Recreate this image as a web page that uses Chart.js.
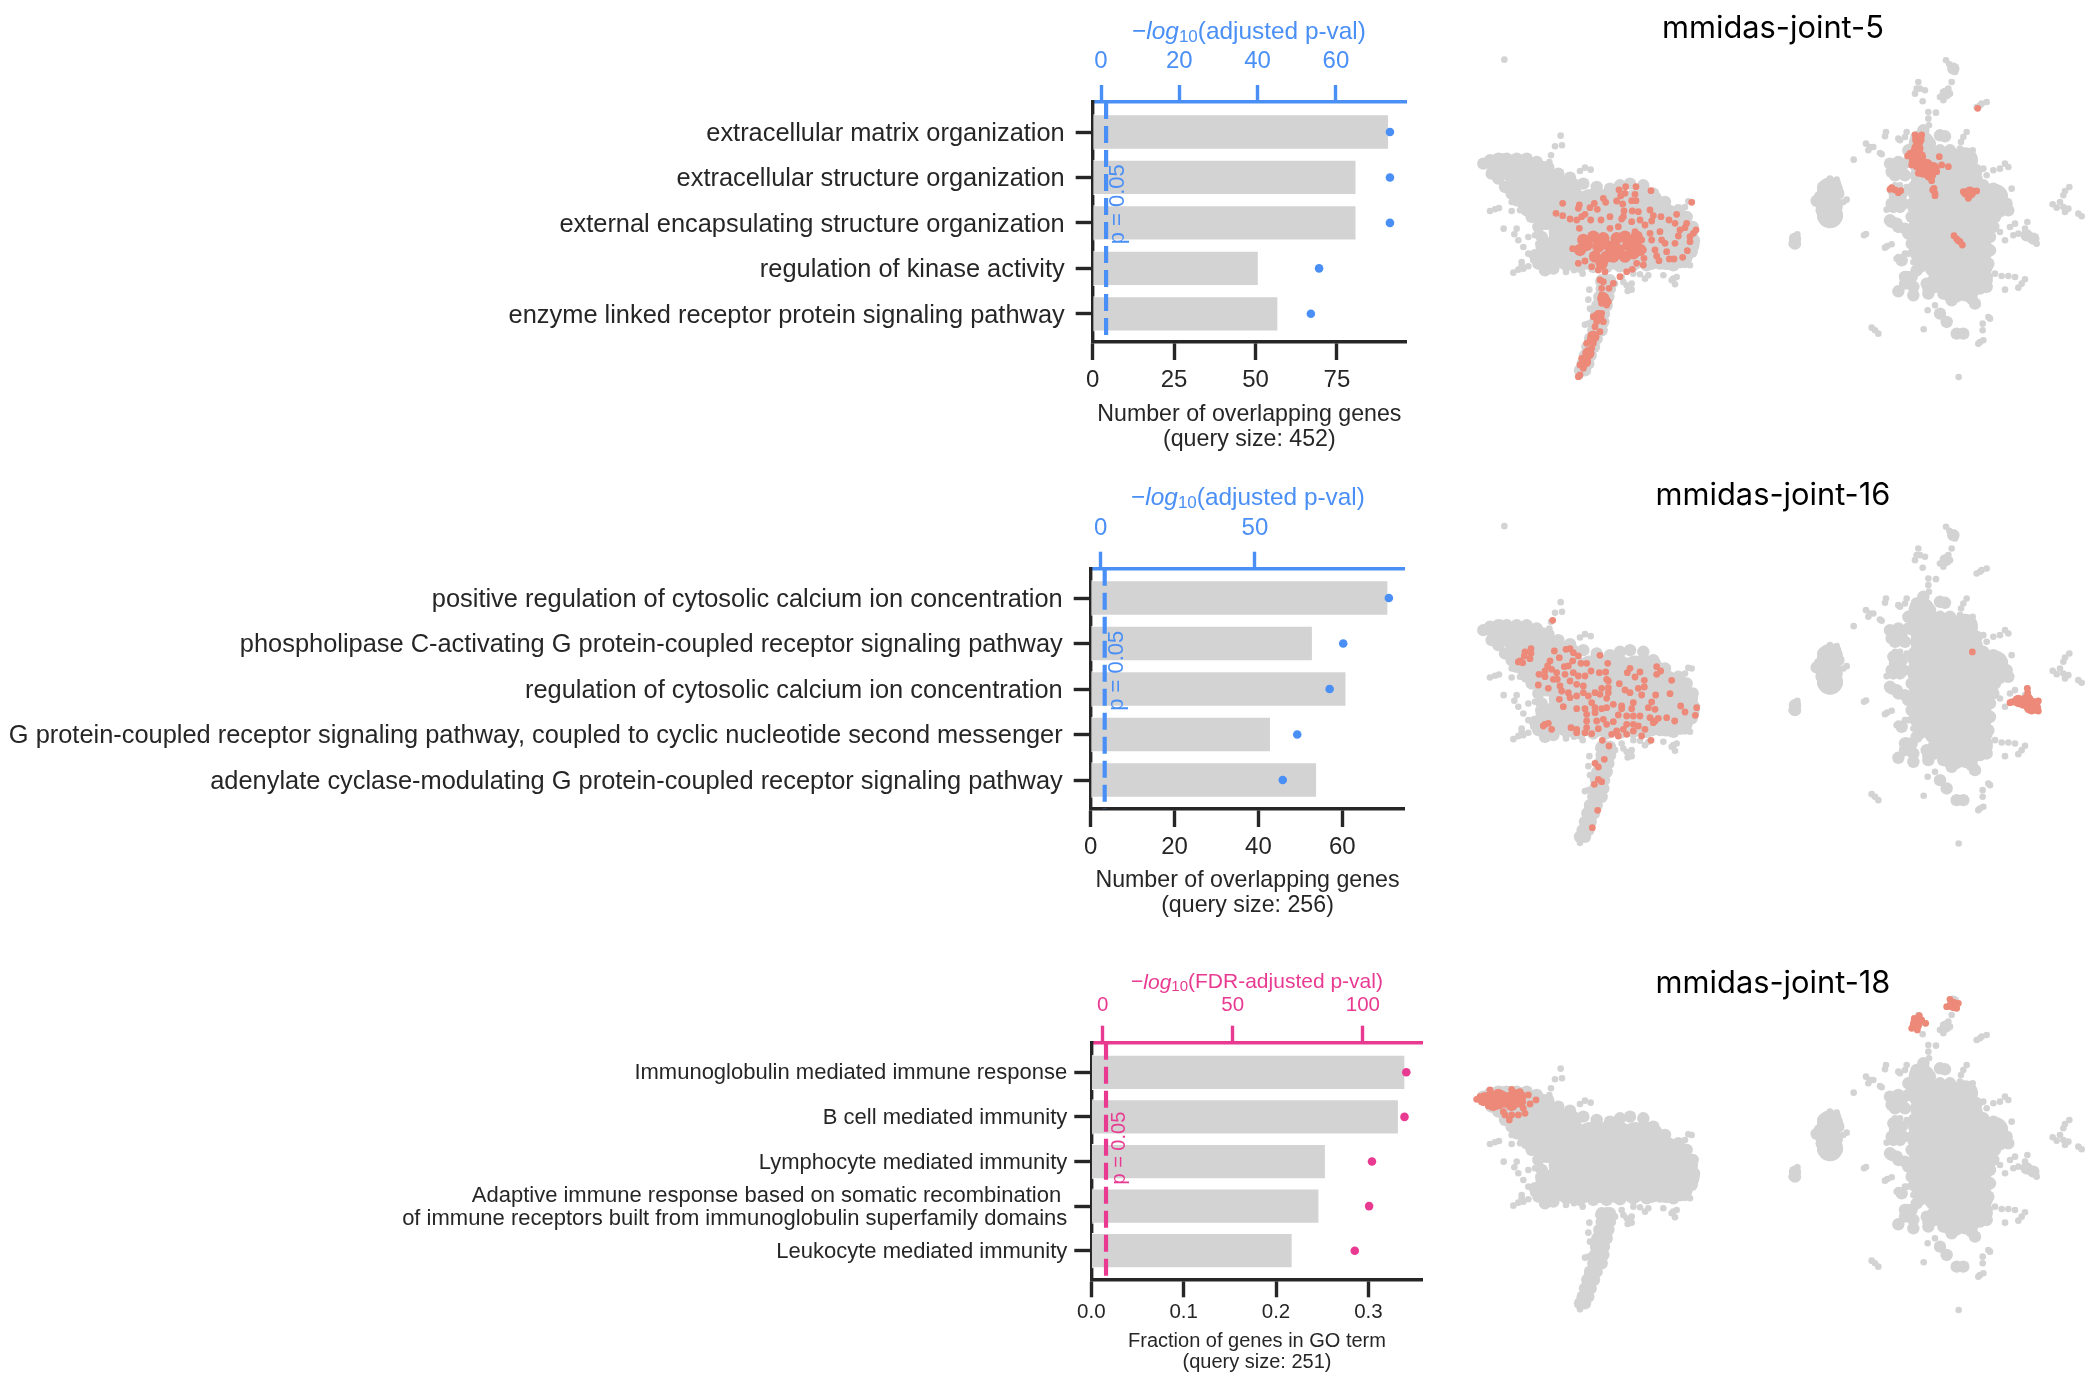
<!DOCTYPE html>
<html>
<head>
<meta charset="utf-8">
<title>mmidas GO enrichment</title>
<script src="https://cdn.jsdelivr.net/npm/chart.js@4"></script>
<style>
  html, body { margin: 0; padding: 0; background: #fff; overflow: hidden; }
  canvas { position: absolute; }
</style>
</head>
<body>
<canvas id="bars5" width="1450" height="460" style="left:0;top:0"></canvas>
<canvas id="bars16" width="1450" height="460" style="left:0;top:470px"></canvas>
<canvas id="bars18" width="1450" height="428" style="left:0;top:960px"></canvas>
<canvas id="umap5" width="646" height="456" style="left:1450px;top:0"></canvas>
<canvas id="umap16" width="646" height="456" style="left:1450px;top:466px"></canvas>
<canvas id="umap18" width="646" height="456" style="left:1450px;top:932px"></canvas>
<script>
// bar panel data
const terms5 = ["extracellular matrix organization", "extracellular structure organization",
    "external encapsulating structure organization", "regulation of kinase activity",
    "enzyme linked receptor protein signaling pathway"];
const genes5 = [91, 81, 81, 51, 57];
const logp5 = [73.8, 73.8, 73.8, 55.7, 53.6];
const ticks5 = [0, 25, 50, 75];
const topTicks5 = [0, 20, 40, 60];

const terms16 = ["positive regulation of cytosolic calcium ion concentration",
    "phospholipase C-activating G protein-coupled receptor signaling pathway",
    "regulation of cytosolic calcium ion concentration",
    "G protein-coupled receptor signaling pathway, coupled to cyclic nucleotide second messenger",
    "adenylate cyclase-modulating G protein-coupled receptor signaling pathway"];
const genes16 = [71, 53, 61, 43, 54];
const logp16 = [93.4, 78.6, 74.2, 63.7, 59];
const ticks16 = [0, 20, 40, 60];
const topTicks16 = [0, 50];

const terms18 = ["Immunoglobulin mediated immune response", "B cell mediated immunity",
    "Lymphocyte mediated immunity",
    ["Adaptive immune response based on somatic recombination ", "of immune receptors built from immunoglobulin superfamily domains"],
    "Leukocyte mediated immunity"];
const fraction18 = [0.340, 0.333, 0.254, 0.247, 0.218];
const logp18 = [116.7, 116, 103.5, 102.4, 96.9];
const ticks18 = [0, 0.1, 0.2, 0.3];
const topTicks18 = [0, 50, 100];

// embeddings: the grey cells are the same in all three rows, L and R are the two maps
const greyCoreL = [[90,357],[130,370],[175,370],[215,380],[150,415],
    [160,420],[205,420],[250,420],[295,425],
    [180,465],[225,465],[270,465],[315,465],[360,465],[405,465],[450,465],[495,465],[540,465],
    [230,510],[275,510],[320,510],[365,510],[410,510],[455,510],[500,510],[545,510],[590,510],[620,520],
    [275,555],[295,555],[340,555],[385,555],[430,555],[475,555],[520,555],[565,555],[610,555],[645,555],
    [260,600],[305,600],[350,600],[395,600],[440,600],[485,600],[530,600],[575,600],[620,600],[650,590],
    [240,630],[290,630],[340,630],[390,630],[440,630],[490,630],[540,630],[590,630],[630,625]];
const greyMidL = [[40,350],[60,340],[85,335],[110,335],[140,335],[170,335],[200,345],[235,362],[265,380],[300,392],
    [340,410],[380,420],[420,425],[450,415],[480,410],[520,415],[550,440],[585,465],[625,490],[650,510],[668,540],
    [672,580],[665,615],[645,645],[610,655],[570,650],[530,655],[490,655],[450,658],[410,660],[370,660],[330,660],
    [290,655],[250,665],[225,670],[205,650],[195,625],[215,600],[215,570],[205,540],[185,510],[170,490],[140,460],
    [125,440],[105,420],[85,395],[65,380],
    [410,700],[408,725],[402,750],[398,775],[392,800],[388,825],[382,850],[368,875],[362,900],[355,925],[348,950],
    [420,700],[395,700],[420,725],[395,725],[415,750],[388,750],[410,775],[382,775],[402,800],[378,800],[400,825],
    [375,825],[395,850],[370,850],[380,875],[360,875],[372,900],[352,900],[362,925],[345,925],[355,950],[338,950],
    [345,970],[330,970]];
const greyEdgeL = [[103,38],[272,266],[276,295],[255,298],[243,325],[238,345],[345,362],[362,368],[330,372],
    [655,463],[665,465],[645,480],[60,492],[75,487],[87,483],[101,545],[125,465],[125,492],[150,490],
    [140,545],[133,562],[145,580],[160,600],[175,620],[190,640],[175,570],[195,565],[205,590],[210,610],
    [155,645],[130,677],[145,668],[160,665],[175,658],[155,655],
    [288,675],[312,670],[338,680],[385,705],[435,710],[460,705],[470,715],[485,710],[473,732],[485,728],[455,690],
    [490,680],[525,695],[535,685],[510,682],[580,685],[610,695],[615,712],[605,700],[620,690],[660,655],
    [358,728],[355,758],[360,785],[345,833],[355,830],[400,850],[385,870],[330,955],[325,965],[345,968],[330,988],
    [338,975],[375,905],[350,890]];
const greyCoreR = [[150,430],[145,470],[150,505],
    [425,290],[420,340],[470,340],[510,340],[555,340],[430,385],[475,385],[520,385],[565,385],
    [420,430],[465,430],[510,430],[555,430],[600,440],[645,450],
    [420,475],[465,475],[510,475],[555,475],[600,475],[650,475],
    [425,520],[470,520],[515,520],[560,520],[605,520],
    [420,565],[465,565],[510,565],[555,565],[600,565],
    [425,610],[470,610],[515,610],[560,610],[600,610],
    [470,655],[515,655],[560,655],[600,655],[510,700],[550,700],[590,690],[520,730],[560,725]];
const greyMidR = [[130,420],[165,410],[120,450],[110,462],[175,440],[170,480],[130,510],[170,510],[150,525],[125,490],
    [45,590],[45,575],[520,65],[497,140],[480,265],[495,268],
    [355,345],[345,365],[385,345],[385,310],[410,270],[430,250],[450,290],[480,310],[510,310],[345,385],[375,385],
    [550,335],[590,370],[590,395],[610,415],[640,425],[665,445],[680,470],[685,490],[645,510],[355,435],[345,450],
    [370,470],[395,510],[340,480],[335,525],[355,540],[385,560],[395,590],[640,540],[630,570],[630,610],[625,650],
    [440,640],[420,660],[380,690],[400,720],[355,733],[445,725],[460,700],[620,700],[620,720],[600,725],[515,760],
    [575,755],[585,770],[740,565],[760,575],[480,800],[500,825],[530,860],[550,860],
    [330,350],[335,375],[365,360],[340,430],[365,440],[335,470],[360,480],[330,520],[350,530],[375,545],[365,640],
    [375,690],[395,690],[410,670],[375,710],[400,745],[440,710],[445,740],[465,720],[490,740],[620,690]];
const greyEdgeR = [[200,458],[190,465],[150,395],[170,398],[52,562],[35,590],[221,338],[258,561],[252,565],
    [322,597],[335,592],[315,602],[285,850],[275,842],[295,860],[431,847],[536,990],
    [498,40],[508,52],[525,75],[415,105],[410,125],[405,140],[420,125],[435,130],[515,105],[505,125],[490,135],
    [480,150],[490,160],[510,140],[428,163],[468,197],[590,180],[605,170],[620,165],[600,175],
    [445,195],[445,215],[447,235],[315,268],[318,255],[258,290],[270,300],[280,300],[265,310],[305,322],[300,318],
    [560,255],[550,270],[543,285],[540,305],[578,310],[360,280],[375,270],[355,275],[380,255],
    [320,488],[330,480],[345,430],[345,415],[360,415],[380,420],[620,385],[640,370],[660,365],[675,350],[685,360],[610,365],
    [695,425],[742,525],[705,530],[690,540],[660,555],[675,580],[715,560],[700,565],[770,590],[735,545],
    [645,680],[665,687],[685,687],[705,690],[735,697],[725,710],[715,722],[675,728],[465,775],[443,790],
    [630,815],[625,810],[608,830],[608,850],[600,885],[595,890],[610,880],
    [355,630],[375,620],[365,635],[350,635],[400,645],[385,620],
    [868,420],[855,432],[850,445],[840,465],[818,472],[830,482],[855,495],[865,485],[895,500],[905,508],[850,480]];

// cells of each mmidas type
const red5L = [[278,460],[258,490],[278,497],[300,507],[320,510],[335,500],[345,493],[328,465],[325,475],[360,473],[373,460],[382,478],
    [400,445],[407,457],[362,510],[393,510],[420,500],[447,420],[452,438],[467,410],[465,430],[498,410],[543,422],[495,433],[440,453],
    [458,462],[485,452],[498,452],[540,480],[620,493],[665,457],[462,483],[487,483],[505,485],[460,500],[455,507],[550,497],[545,513],
    [573,500],[597,510],[485,515],[510,510],[420,535],[445,530],[328,535],[525,525],[615,520],[650,520],[645,533],[678,540],[670,550],
    [660,560],[630,540],[625,558],[615,580],[308,596],[325,640],[345,633],[495,545],[515,570],[540,550],[545,570],[570,545],[575,570],
    [585,580],[590,605],[555,600],[560,618],[520,600],[522,625],[567,632],[598,627],[612,627],[638,622],[652,602],[660,575],[520,645],
    [500,640],[487,658],[470,665],[450,680],[430,700],[417,715],[405,665],[385,660],[365,650],[395,640],
    [390,690],[400,695],[395,715],[395,735],[410,750],[415,755],[395,760],[410,765],[385,790],[370,800],[395,790],[400,815],[380,815],
    [375,830],[390,845],[365,855],[360,870],[350,880],[370,880],[365,895],[350,910],[335,925],[355,920],[350,935],[330,945],[340,955],
    [330,975],[325,980]];
const redBlob5L = [[370,560],[350,585],[385,590],[420,590],[375,620],[410,620],[445,600],[475,585],[465,560],[440,565],[490,610],[465,620],
    [340,570],[400,565],[495,580],[510,600],[330,600],[500,560],[430,620],[395,640],[400,745],[385,800],[370,860],[355,910],[345,935]];
const red5R = [[593,175],[405,255],[425,255],[390,310],[383,318],[395,345],[485,345],[478,320],[505,350],[415,370],[455,392],[470,365],
    [335,413],[345,420],[355,428],[362,422],[330,418],[462,415],[465,430],[465,437],[458,420],
    [555,432],[590,423],[565,445],[550,425],[522,557],[530,567],[540,575],[547,585],[535,572]];
const redBlob5R = [[415,270],[412,295],[400,315],[420,320],[415,345],[440,345],[430,365],[450,375],[460,355],[405,335],[570,428]];

const red16L = [[248,313],[183,398],[165,408],[183,412],[163,420],[150,435],[145,438],[158,440],[180,428],
    [253,405],[288,400],[300,398],[310,410],[325,420],[268,425],[240,435],[233,450],[207,475],[225,465],[225,482],[245,460],[260,470],
    [262,490],[250,490],[283,452],[295,450],[308,435],[333,442],[350,442],[390,418],[413,442],
    [285,475],[310,470],[325,480],[345,480],[363,465],[388,470],[407,468],[410,490],[415,495],[205,507],[235,517],[270,510],[275,525],
    [300,495],[320,505],[340,510],[395,517],[415,515],[415,530],[268,550],[295,530],[300,545],[320,540],[340,530],[355,540],[375,530],
    [390,535],[410,547],[280,572],[320,578],[345,578],[365,560],[375,575],[395,578],[410,575],[430,565],[375,590],
    [350,595],[350,615],[350,635],[345,650],[365,653],[380,615],[385,638],[400,610],[410,625],[430,617],[445,597],[455,570],[455,578],
    [470,600],[490,600],[470,625],[490,625],[460,640],[440,645],[425,655],[445,660],[470,655],[490,645],[505,630],[525,640],[515,660],
    [510,600],[535,575],[555,580],[545,558],[490,560],[485,578],[557,537],[515,537],[465,522],[480,530],[505,517],[523,513],[523,493],
    [495,483],[472,470],[480,457],[510,468],[448,503],[560,452],[572,465],[560,475],[605,493],[600,533],[632,570],[645,588],[680,575],
    [676,598],[614,615],[590,605],[565,607],[540,605],[550,620],[555,615],[543,673],[397,673],[417,690],
    [225,625],[235,622],[220,630],[245,640],[303,635],[320,640],[320,650],
    [403,730],[375,742],[385,753],[385,790],[395,797],[373,805],[383,883],[367,935]];
const redBlob16L = [];
const red16R = [[577,408],[742,517],[743,530],[695,558],[690,560],[775,555],[775,585],[755,585]];
const redBlob16R = [[742,550],[760,565],[730,560],[715,555],[750,575],[765,575]];

const red18L = [[20,358],[30,350],[60,330],[125,328],[150,335],[175,345],[198,360],[180,372],[160,385],[165,400],[145,405],[125,405],
    [105,405],[118,420],[100,395],[55,378]];
const redBlob18L = [[45,355],[65,350],[85,370],[70,375],[105,365],[130,350],[150,350],[125,375],[145,345],[95,350],
    [60,365],[115,355],[85,345],[135,365],[40,360],[150,365]];
const red18R = [[497,38],[505,50],[510,58],[535,70],[500,80],[530,85],[418,107],[425,120],[437,130],[395,145],[412,150],[403,115]];
const redBlob18R = [[520,75],[408,135],[410,125]];

const BLUE = "#4a8ff5";
const PINK = "#e93a92";
const DARK = "#262626";
const FONT = "'Liberation Sans', Arial, sans-serif";

// top axis title has italic log and a subscript, the scale title can't do that
const logTitle = {
    id: "logTitle",
    afterDraw(chart, args, o) {
        var ctx = chart.ctx;
        var parts = [
            { text: "\u2212", font: o.size + "px " + FONT, dy: 0 },
            { text: "log", font: "italic " + o.size + "px " + FONT, dy: 0 },
            { text: "10", font: Math.round(o.size * 0.7) + "px " + FONT, dy: o.size * 0.22 },
            { text: o.label, font: o.size + "px " + FONT, dy: 0 }
        ];
        ctx.save();
        ctx.fillStyle = o.color;
        ctx.textBaseline = "middle";
        ctx.textAlign = "left";
        var total = 0;
        parts.forEach(function (p) { ctx.font = p.font; total += ctx.measureText(p.text).width; });
        var x = o.x - total / 2;
        parts.forEach(function (p) {
            ctx.font = p.font;
            ctx.fillText(p.text, x, o.y + p.dy);
            x += ctx.measureText(p.text).width;
        });
        ctx.restore();
    }
};

// rotated label next to the dashed significance line
const pLabel = {
    id: "pLabel",
    afterDatasetsDraw(chart, args, o) {
        var ctx = chart.ctx;
        ctx.save();
        ctx.translate(chart.scales.xTop.getPixelForValue(o.x), chart.scales.y.getPixelForValue(o.y));
        ctx.rotate(-Math.PI / 2);
        ctx.fillStyle = o.color;
        ctx.font = o.size + "px " + FONT;
        ctx.textAlign = "center";
        ctx.textBaseline = "middle";
        ctx.fillText("p = 0.05", 0, 0);
        ctx.restore();
    }
};

function fixedTicks(values) {
    return function (scale) { scale.ticks = values.map(function (v) { return { value: v }; }); };
}

function fixedBox(prop, size) {
    return function (scale) {
        scale[prop] = size;
        scale.paddingLeft = scale.paddingRight = scale.paddingTop = scale.paddingBottom = 0;
    };
}

function buildBars(id, terms, values, logp, ticks, topTicks, o) {
    var ctx = document.getElementById(id).getContext("2d");
    var order = [0, 1, 2, 3, 4];
    return new Chart(ctx, {
        data: {
            datasets: [
                {
                    type: "scatter",
                    data: logp.map(function (v, i) { return { x: v, y: i }; }),
                    xAxisID: "xTop", yAxisID: "y",
                    backgroundColor: o.color, pointRadius: 4.3, pointBorderWidth: 0,
                    clip: false, order: 1
                },
                {
                    type: "line",
                    data: [{ x: o.pLine, y: o.yMin }, { x: o.pLine, y: o.yMax }],
                    xAxisID: "xTop", yAxisID: "y",
                    borderColor: o.color, borderWidth: 4.2, borderDash: [17, 7], pointRadius: 0, order: 2
                },
                {
                    type: "bar",
                    data: values.map(function (v, i) { return { x: v, y: i }; }),
                    xAxisID: "x", yAxisID: "y",
                    backgroundColor: "#d3d3d3", borderColor: "#fff", borderWidth: 1,
                    categoryPercentage: 1, barPercentage: o.barPct, order: 3
                }
            ]
        },
        options: {
            indexAxis: "y",
            responsive: false,
            animation: false,
            layout: { autoPadding: false, padding: { right: 1450 - o.right } },
            plugins: {
                legend: { display: false },
                tooltip: { enabled: false },
                logTitle: { label: o.topLabel, color: o.color, size: o.titleSize, x: o.titleX, y: o.titleY },
                pLabel: { color: o.color, size: o.pSize, x: o.pX, y: o.pY }
            },
            scales: {
                x: {
                    type: "linear", axis: "x", position: "bottom", min: 0, max: o.xMax,
                    afterBuildTicks: fixedTicks(ticks),
                    afterFit: fixedBox("height", o.bottomBox),
                    border: { color: DARK, width: 3.4 },
                    grid: { drawOnChartArea: false, tickLength: 18, tickWidth: 3.4, tickColor: DARK },
                    ticks: {
                        color: DARK, padding: o.tickPad, autoSkip: false, maxRotation: 0,
                        font: { family: FONT, size: o.tickSize },
                        callback: function (v) { return o.decimals ? v.toFixed(1) : String(v); }
                    },
                    title: {
                        display: true, text: o.xTitle, color: DARK,
                        font: { family: FONT, size: o.xTitleSize, lineHeight: o.xTitleLine },
                        padding: { top: 0, bottom: o.xTitleBottom }
                    }
                },
                xTop: {
                    type: "linear", axis: "x", position: "top", min: o.topMin, max: o.topMax,
                    afterBuildTicks: fixedTicks(topTicks),
                    afterFit: fixedBox("height", o.topBox),
                    border: { color: o.color, width: 3.4 },
                    grid: { drawOnChartArea: false, tickLength: 17, tickWidth: 3.4, tickColor: o.color },
                    ticks: {
                        color: o.color, padding: o.topPad, autoSkip: false, maxRotation: 0,
                        font: { family: FONT, size: o.tickSize }
                    }
                },
                y: {
                    type: "linear", axis: "y", position: "left", reverse: true, min: o.yMin, max: o.yMax,
                    offset: false,
                    afterBuildTicks: fixedTicks(order),
                    afterFit: fixedBox("width", o.left),
                    border: { color: DARK, width: 3.4 },
                    grid: { offset: false, drawOnChartArea: false, tickLength: 17, tickWidth: 3.4, tickColor: DARK },
                    ticks: {
                        color: DARK, padding: o.labelPad, autoSkip: false, labelOffset: o.labelShift,
                        font: { family: FONT, size: o.labelSize, lineHeight: o.labelLine },
                        callback: function (v) { return terms[v]; }
                    }
                }
            }
        },
        plugins: [logTitle, pLabel]
    });
}

buildBars("bars5", terms5, genes5, logp5, ticks5, topTicks5, {
    color: BLUE, left: 1092.7, right: 1406, topBox: 102, bottomBox: 118, barPct: 0.776,
    xMax: 96.2, topMin: -2.12, topMax: 77.9, yMin: -0.66, yMax: 4.62, pLine: 1.3,
    topLabel: "(adjusted p-val)", titleSize: 24.4, titleX: 1249, titleY: 32,
    pSize: 22, pX: 4.3, pY: 1.59,
    tickSize: 24, tickPad: 6, topPad: 9, labelSize: 25.4, labelLine: 1.2, labelPad: 11, labelShift: 2,
    xTitle: ["Number of overlapping genes", "(query size: 452)"],
    xTitleSize: 23.2, xTitleLine: 1.05, xTitleBottom: 8.5
});

buildBars("bars16", terms16, genes16, logp16, ticks16, topTicks16, {
    color: BLUE, left: 1090.7, right: 1404.3, topBox: 98.7, bottomBox: 121, barPct: 0.776,
    xMax: 74.8, topMin: -3.24, topMax: 98.4, yMin: -0.644, yMax: 4.637, pLine: 1.3,
    topLabel: "(adjusted p-val)", titleSize: 24.4, titleX: 1248, titleY: 28.3,
    pSize: 22, pX: 5.2, pY: 1.6,
    tickSize: 24, tickPad: 6, topPad: 9, labelSize: 25.4, labelLine: 1.2, labelPad: 11, labelShift: 1.5,
    xTitle: ["Number of overlapping genes", "(query size: 256)"],
    xTitleSize: 23.2, xTitleLine: 1.05, xTitleBottom: 12.5
});

buildBars("bars18", terms18, fraction18, logp18, ticks18, topTicks18, {
    color: PINK, left: 1091.3, right: 1422.7, topBox: 82.7, bottomBox: 108.7, barPct: 0.79,
    xMax: 0.3588, topMin: -4.36, topMax: 123, yMin: -0.664, yMax: 4.641, pLine: 1.3,
    topLabel: "(FDR-adjusted p-val)", titleSize: 21, titleX: 1257, titleY: 22.7,
    pSize: 20, pX: 6.65, pY: 1.7,
    tickSize: 20.5, tickPad: 3, topPad: 8, labelSize: 22, labelLine: 1.05, labelPad: 7, labelShift: 1,
    decimals: true,
    xTitle: ["Fraction of genes in GO term", "(query size: 251)"],
    xTitleSize: 20, xTitleLine: 1.05, xTitleBottom: 15.5
});

function toPoints(pairs) {
    return pairs.map(function (p) { return { x: p[0], y: p[1] }; });
}

const SALMON = "#ec8979";
const GREY = "#d3d3d3";
const UMAP_W = 646;
const UMAP_H = 456;

// both maps share one chart, each has its own hidden x scale
function buildUmap(id, title, titleTop, redOffset, greyOffset, red) {
    var ctx = document.getElementById(id).getContext("2d");
    var areaTop = titleTop + 37;
    function layer(pairs, colour, radius, xId, yId) {
        return {
            data: toPoints(pairs), backgroundColor: colour, pointRadius: radius, pointBorderWidth: 0,
            clip: false, xAxisID: xId, yAxisID: yId
        };
    }
    function hiddenY(offset) {
        return { display: false, reverse: true, min: (areaTop - offset) * 3, max: (UMAP_H - offset) * 3 };
    }
    return new Chart(ctx, {
        type: "scatter",
        data: {
            datasets: [
                layer(red.blobL, SALMON, 6.2, "xL", "yRed"),
                layer(red.dotsL, SALMON, 3.4, "xL", "yRed"),
                layer(red.blobR, SALMON, 6.2, "xR", "yRed"),
                layer(red.dotsR, SALMON, 3.4, "xR", "yRed"),
                layer(greyEdgeL, GREY, 3.3, "xL", "yGrey"),
                layer(greyMidL, GREY, 6.2, "xL", "yGrey"),
                layer(greyCoreL, GREY, 13, "xL", "yGrey"),
                layer(greyEdgeR, GREY, 3.3, "xR", "yGrey"),
                layer(greyMidR, GREY, 6.2, "xR", "yGrey"),
                layer(greyCoreR, GREY, 13, "xR", "yGrey")
            ]
        },
        options: {
            responsive: false,
            animation: false,
            layout: { autoPadding: false },
            plugins: {
                legend: { display: false },
                tooltip: { enabled: false },
                title: {
                    display: true, text: title, color: "#000",
                    font: { family: "Inter", size: 30.8, weight: "normal", lineHeight: 1.2 },
                    padding: { top: titleTop, bottom: 0 }
                }
            },
            scales: {
                xL: { axis: "x", type: "linear", display: false, min: -60, max: UMAP_W * 3 - 60 },
                xR: { axis: "x", type: "linear", display: false, min: -990, max: UMAP_W * 3 - 990 },
                yRed: Object.assign({ axis: "y", type: "linear" }, hiddenY(redOffset)),
                yGrey: Object.assign({ axis: "y", type: "linear" }, hiddenY(greyOffset))
            }
        }
    });
}

buildUmap("umap5", "mmidas-joint-5", 10, 50, 47, { dotsL: red5L, blobL: redBlob5L, dotsR: red5R, blobR: redBlob5R });
buildUmap("umap16", "mmidas-joint-16", 11, 50, 47.5, { dotsL: red16L, blobL: redBlob16L, dotsR: red16R, blobR: redBlob16R });
buildUmap("umap18", "mmidas-joint-18", 33, 48, 48, { dotsL: red18L, blobL: redBlob18L, dotsR: red18R, blobR: redBlob18R });
</script>
</body>
</html>
